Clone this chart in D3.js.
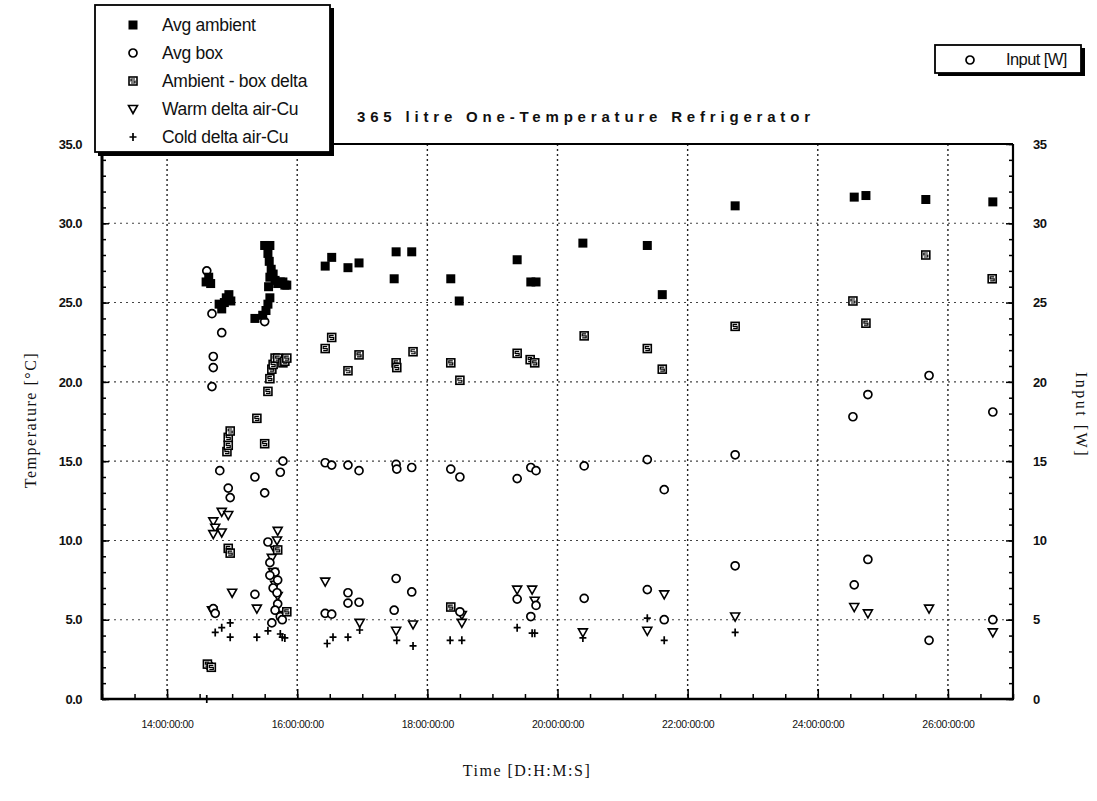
<!DOCTYPE html>
<html><head><meta charset="utf-8">
<script src="https://cdn.jsdelivr.net/npm/d3@7/dist/d3.min.js"></script>
<style>body{margin:0;background:#fff}svg{display:block}</style></head>
<body><svg id="c" width="1097" height="801"></svg>
<script>
// time in hours, value
const avgAmbient = [[14.60,26.3],[14.64,26.6],[14.67,26.2],[14.80,24.9],[14.84,24.6],[14.88,25.0],[14.91,25.3],[14.95,25.5],[14.98,25.1],[15.35,24.0],[15.47,24.2],[15.52,24.5],[15.55,24.9],[15.58,25.3],[15.56,26.0],[15.58,26.6],[15.60,27.1],[15.57,27.6],[15.55,28.1],[15.50,28.6],[15.58,28.6],[15.63,26.8],[15.66,26.4],[15.70,26.2],[15.74,26.3],[15.78,26.3],[15.81,26.1],[15.84,26.1],[16.43,27.3],[16.53,27.85],[16.78,27.2],[16.95,27.5],[17.49,26.5],[17.52,28.2],[17.76,28.2],[18.36,26.5],[18.49,25.1],[19.38,27.7],[19.59,26.3],[19.67,26.3],[20.39,28.75],[21.38,28.6],[21.61,25.5],[22.73,31.1],[24.56,31.65],[24.74,31.75],[25.66,31.5],[26.69,31.35]];
const avgBox = [[14.61,27.0],[14.69,24.3],[14.84,23.1],[14.71,21.6],[14.71,20.9],[14.69,19.7],[14.81,14.4],[14.94,13.3],[14.97,12.7],[15.50,23.8],[15.35,14.0],[15.50,13.0],[15.74,14.3],[15.78,15.0],[16.43,14.9],[16.53,14.75],[16.78,14.75],[16.95,14.4],[17.52,14.8],[17.53,14.5],[17.76,14.6],[18.36,14.5],[18.50,14.0],[19.38,13.9],[19.59,14.6],[19.67,14.4],[20.41,14.7],[21.38,15.1],[21.64,13.2],[22.73,15.4],[24.54,17.8],[24.77,19.2],[25.71,20.4],[26.69,18.1]];
const boxDelta = [[14.62,2.2],[14.68,2.0],[14.94,9.5],[14.97,9.2],[14.92,15.6],[14.94,16.0],[14.94,16.5],[14.97,16.9],[15.38,17.7],[15.50,16.1],[15.55,19.4],[15.58,20.2],[15.61,20.8],[15.63,21.1],[15.66,21.5],[15.70,21.5],[15.78,21.2],[15.81,21.3],[15.84,21.5],[15.70,9.4],[15.84,5.5],[16.43,22.1],[16.53,22.8],[16.78,20.7],[16.95,21.7],[17.52,21.2],[17.53,20.9],[17.78,21.9],[18.36,21.2],[18.50,20.1],[18.36,5.8],[19.38,21.8],[19.58,21.4],[19.65,21.2],[20.41,22.9],[21.38,22.1],[21.61,20.8],[22.73,23.5],[24.54,25.1],[24.74,23.7],[25.66,28.0],[26.68,26.5]];
const warmDelta = [[14.71,11.2],[14.74,10.8],[14.84,11.8],[14.94,11.6],[14.84,10.5],[14.71,10.4],[15.00,6.7],[14.69,5.6],[15.70,10.6],[15.69,10.0],[15.66,9.4],[15.61,8.9],[15.63,8.0],[15.66,7.2],[15.70,6.5],[15.38,5.7],[15.77,5.3],[16.43,7.4],[16.96,4.8],[17.52,4.3],[17.78,4.7],[18.53,5.3],[18.53,4.8],[19.38,6.9],[19.61,6.9],[19.65,6.2],[20.39,4.2],[21.38,4.3],[21.64,6.6],[22.73,5.2],[24.56,5.8],[24.77,5.4],[25.71,5.7],[26.69,4.2]];
const coldDelta = [[14.61,0.0],[14.74,4.2],[14.84,4.5],[14.97,4.8],[14.97,3.9],[15.38,3.9],[15.55,4.3],[15.77,3.9],[15.81,3.85],[15.74,4.1],[16.46,3.5],[16.55,3.9],[16.78,3.9],[16.96,4.35],[17.53,3.7],[17.78,3.35],[18.35,3.7],[18.53,3.7],[19.38,4.5],[19.61,4.15],[19.65,4.15],[20.39,3.85],[21.38,5.1],[21.64,3.7],[22.73,4.2]];
const inputW = [[14.65,2.1],[14.71,5.7],[14.74,5.4],[15.35,6.6],[15.55,9.9],[15.58,8.6],[15.66,8.0],[15.58,7.8],[15.70,7.5],[15.63,7.0],[15.69,6.7],[15.70,6.0],[15.66,5.6],[15.74,5.2],[15.61,4.8],[15.77,5.0],[16.43,5.4],[16.53,5.35],[16.78,6.7],[16.78,6.05],[16.95,6.1],[17.52,7.6],[17.49,5.6],[17.76,6.75],[18.50,5.5],[19.38,6.3],[19.59,5.2],[19.67,5.9],[20.41,6.35],[21.38,6.9],[21.64,5.0],[22.73,8.4],[24.56,7.2],[24.77,8.8],[25.71,3.7],[26.69,5.0]];

const xTickValues = [14,16,18,20,22,24,26];
const xTickLabels = ["14:00:00:00","16:00:00:00","18:00:00:00","20:00:00:00","22:00:00:00","24:00:00:00","26:00:00:00"];
const yTickValues = [0,5,10,15,20,25,30,35];
const yTickLabels = ["0.0","5.0","10.0","15.0","20.0","25.0","30.0","35.0"];
const yRightLabels = ["0","5","10","15","20","25","30","35"];
const legendNames = ["Avg ambient","Avg box","Ambient - box delta","Warm delta air-Cu","Cold delta air-Cu"];
const legendTypes = ["sq","circ","delta","tri","plus"];

const svg = d3.select("#c");
const L=102,R=1013,T=144,B=699;
const x = d3.scaleLinear().domain([13,27]).range([L,R]);
const y = d3.scaleLinear().domain([0,35]).range([B,T]);
const yR = d3.scaleLinear().domain([0,35]).range([B,T]);
const sans = "'Liberation Sans',Arial,sans-serif";
const serif = "'Liberation Serif','Times New Roman',serif";

// grid
const grid = svg.append("g");
grid.selectAll("line.h").data([5,10,15,20,25,30]).enter().append("line")
  .attr("x1",L).attr("x2",R).attr("y1",d=>y(d)).attr("y2",d=>y(d))
  .attr("stroke","#444").attr("stroke-width",1.1).attr("stroke-dasharray","2,4");
grid.selectAll("line.v").data(xTickValues).enter().append("line")
  .attr("x1",d=>x(d)).attr("x2",d=>x(d)).attr("y1",T).attr("y2",B)
  .attr("stroke","#222").attr("stroke-width",1.4).attr("stroke-dasharray","2,3");

// axes
function styleAxis(g){ g.select(".domain").remove(); g.selectAll("line").attr("stroke","#000").attr("stroke-width",1.5); }
const minorY = d3.range(0,36,1);
svg.append("g").attr("transform",`translate(${L},0)`)
  .call(d3.axisLeft(y).tickValues(minorY).tickSize(-4).tickFormat("")).call(styleAxis);
svg.append("g").attr("transform",`translate(${L},0)`)
  .call(d3.axisLeft(y).tickValues(yTickValues).tickSize(-7).tickPadding(20).tickFormat((d,i)=>yTickLabels[i]))
  .call(styleAxis)
  .selectAll("text").attr("font-family",sans).attr("font-size",13).attr("font-weight","bold").attr("letter-spacing",-0.5).attr("fill","#111");
svg.append("g").attr("transform",`translate(${R},0)`)
  .call(d3.axisRight(yR).tickValues(minorY).tickSize(-4).tickFormat("")).call(styleAxis);
svg.append("g").attr("transform",`translate(${R},0)`)
  .call(d3.axisRight(yR).tickValues(yTickValues).tickSize(-7).tickPadding(20).tickFormat((d,i)=>yRightLabels[i]))
  .call(styleAxis)
  .selectAll("text").attr("font-family",sans).attr("font-size",13).attr("font-weight","bold").attr("letter-spacing",-0.5).attr("fill","#111");
svg.append("g").attr("transform",`translate(0,${B})`)
  .call(d3.axisBottom(x).tickValues(d3.range(13,27.01,0.5)).tickSize(-5).tickFormat("")).call(styleAxis);
svg.append("g").attr("transform",`translate(0,${B})`)
  .call(d3.axisBottom(x).tickValues(xTickValues).tickSize(-10).tickPadding(22).tickFormat((d,i)=>xTickLabels[i]))
  .call(styleAxis)
  .selectAll("text").attr("font-family",sans).attr("font-size",10.5).attr("letter-spacing",-0.3).attr("fill","#111");

// frame
svg.append("line").attr("x1",L).attr("x2",L).attr("y1",T).attr("y2",B+1).attr("stroke","#000").attr("stroke-width",3);
svg.append("line").attr("x1",L).attr("x2",R+1).attr("y1",B).attr("y2",B).attr("stroke","#000").attr("stroke-width",2.5);
svg.append("line").attr("x1",R).attr("x2",R).attr("y1",T).attr("y2",B).attr("stroke","#000").attr("stroke-width",2.2);
svg.append("line").attr("x1",L).attr("x2",R).attr("y1",T).attr("y2",T).attr("stroke","#000").attr("stroke-width",1.8);

// markers
function marker(sel,type){
  sel.each(function(){
    const g=d3.select(this);
    if(type==="sq") g.append("rect").attr("x",-4.5).attr("y",-4.5).attr("width",9).attr("height",9).attr("fill","#000");
    else if(type==="circ") g.append("circle").attr("r",4).attr("fill","#fff").attr("stroke","#000").attr("stroke-width",1.7);
    else if(type==="delta"){
      g.append("rect").attr("x",-4).attr("y",-4).attr("width",8).attr("height",8).attr("fill","#fff").attr("stroke","#000").attr("stroke-width",1.6);
      g.append("path").attr("d","M2,-2H-2V0H2V2H-2").attr("fill","none").attr("stroke","#000").attr("stroke-width",1.2);
    }
    else if(type==="tri") g.append("path").attr("d","M-4.5,-3.5H4.5L0,4.5Z").attr("fill","#fff").attr("stroke","#000").attr("stroke-width",1.6);
    else if(type==="plus") g.append("path").attr("d","M-3.5,0H3.5M0,-4V4").attr("stroke","#000").attr("stroke-width",1.7);
  });
}
function plot(data,type,ys){
  svg.append("g").selectAll("g").data(data).enter().append("g")
    .attr("transform",d=>`translate(${x(d[0])},${ys(d[1])})`).call(marker,type);
}
plot(coldDelta,"plus",y);
plot(warmDelta,"tri",y);
plot(inputW,"circ",yR);
plot(boxDelta,"delta",y);
plot(avgBox,"circ",y);
plot(avgAmbient,"sq",y);

// legend box
const lg = svg.append("g");
lg.append("rect").attr("x",98).attr("y",8).attr("width",236).attr("height",148).attr("fill","#000");
lg.append("rect").attr("x",95).attr("y",5).attr("width",235).attr("height",147).attr("fill","#fff").attr("stroke","#000").attr("stroke-width",1.8);
legendNames.forEach((n,i)=>{
  const yy = 25 + i*28;
  lg.append("g").attr("transform",`translate(133,${yy})`).call(marker,legendTypes[i]);
  lg.append("text").attr("x",162).attr("y",yy).attr("dy","0.35em").text(n)
    .attr("font-family",sans).attr("font-size",17.5).attr("letter-spacing",-0.3).attr("fill","#111");
});

// input legend
const lg2 = svg.append("g");
lg2.append("rect").attr("x",938).attr("y",48).attr("width",147).attr("height",28).attr("fill","#000");
lg2.append("rect").attr("x",935).attr("y",45).attr("width",146).attr("height",28).attr("fill","#fff").attr("stroke","#000").attr("stroke-width",1.8);
lg2.append("g").attr("transform","translate(970,60)").call(marker,"circ");
lg2.append("text").attr("x",1006).attr("y",59).attr("dy","0.35em").text("Input [W]")
  .attr("font-family",sans).attr("font-size",16.5).attr("letter-spacing",-0.6).attr("fill","#111");

// title
svg.append("text").attr("x",357).attr("y",117).attr("dy","0.35em")
  .attr("textLength",453).attr("lengthAdjust","spacing")
  .text("365  litre  One-Temperature  Refrigerator")
  .attr("font-family",sans).attr("font-size",15).attr("font-weight","bold").attr("fill","#111");

// axis titles
svg.append("text").attr("x",527).attr("y",770).attr("dy","0.35em").attr("text-anchor","middle")
  .text("Time [D:H:M:S]").attr("font-family",serif).attr("font-size",16).attr("letter-spacing",1.5).attr("fill","#111");
svg.append("text").attr("transform","translate(30,420) rotate(-90)").attr("text-anchor","middle").attr("dy","0.35em")
  .text("Temperature [°C]").attr("font-family",serif).attr("font-size",16).attr("letter-spacing",1.5).attr("fill","#111");
svg.append("text").attr("transform","translate(1082,415) rotate(90)").attr("text-anchor","middle").attr("dy","0.35em")
  .text("Input [W]").attr("font-family",serif).attr("font-size",16).attr("letter-spacing",2.5).attr("fill","#111");
</script></body></html>
